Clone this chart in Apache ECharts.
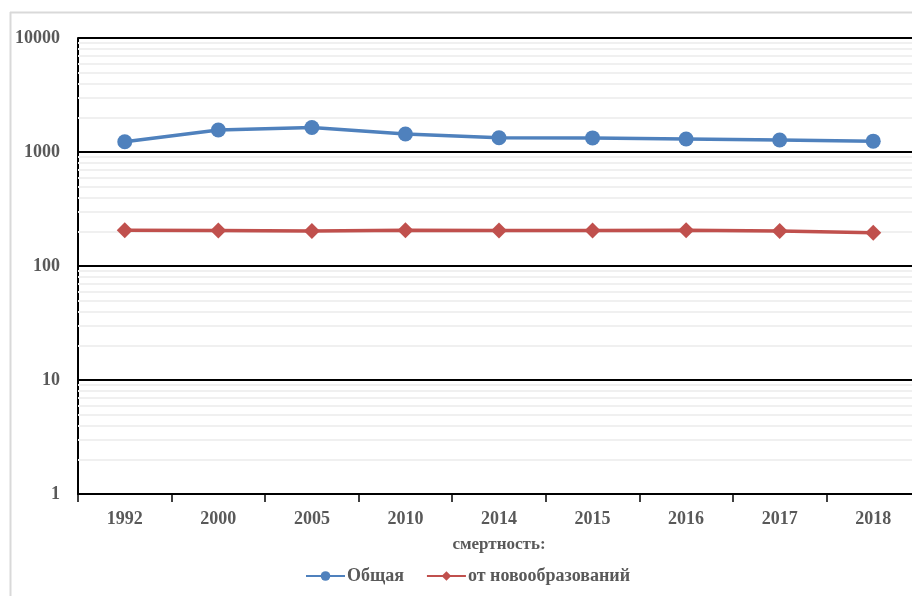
<!DOCTYPE html>
<html>
<head>
<meta charset="utf-8">
<script src="https://cdn.jsdelivr.net/npm/echarts@6/dist/echarts.min.js"></script>
<style>
  html, body { margin: 0; padding: 0; background: #fff; overflow: hidden; }
  #chart { width: 920px; height: 596px; }
</style>
</head>
<body>
<div id="chart"></div>
<script>
// Years on the category axis
const years = ['1992', '2000', '2005', '2010', '2014', '2015', '2016', '2017', '2018'];
// Overall mortality
const totalMortality = [1230, 1560, 1640, 1440, 1335, 1330, 1300, 1275, 1245];
// Mortality from neoplasms
const cancerMortality = [206, 205, 203, 206, 205, 205, 206, 203, 196];
// Legend names
const seriesNames = ['Общая', 'от новообразований'];
const axisTitle = 'смертность:';

// Minor log grid lines (2..9 within each decade)
const minorLines = [];
for (let d = 1; d <= 1000; d *= 10) {
  for (let k = 2; k <= 9; k++) minorLines.push({ yAxis: k * d });
}

const font = '"Liberation Serif", "Times New Roman", serif';
const labelColor = '#595959';
const chart = echarts.init(document.getElementById('chart'));
chart.setOption({
  animation: false,
  backgroundColor: '#fff',
  graphic: [
    { type: 'line', shape: { x1: 10.5, y1: 12, x2: 10.5, y2: 596 }, style: { stroke: '#d9d9d9', lineWidth: 2 } },
    { type: 'line', shape: { x1: 10, y1: 12.5, x2: 920, y2: 12.5 }, style: { stroke: '#d9d9d9', lineWidth: 2 } }
  ],
  grid: { left: 78, right: 0, top: 38, bottom: 102, containLabel: false },
  legend: {
    top: 562,
    left: 300,
    itemWidth: 39,
    itemHeight: 12,
    itemGap: 22,
    textStyle: { fontFamily: font, fontWeight: 'bold', fontSize: 18, color: labelColor, padding: [0, 0, 0, -3] },
    data: seriesNames
  },
  xAxis: {
    type: 'category',
    data: years,
    name: axisTitle,
    nameLocation: 'middle',
    nameGap: 42,
    nameTextStyle: { fontFamily: font, fontWeight: 'bold', fontSize: 17, color: labelColor },
    axisLine: { lineStyle: { color: '#000', width: 2 } },
    axisTick: { show: true, length: 8, lineStyle: { color: '#000', width: 1.5 } },
    axisLabel: { fontFamily: font, fontWeight: 'bold', fontSize: 18, color: labelColor, margin: 16 }
  },
  yAxis: {
    type: 'log',
    logBase: 10,
    min: 1,
    max: 10000,
    axisLine: { show: true, lineStyle: { color: '#000', width: 2 } },
    axisTick: { show: false },
    axisLabel: {
      fontFamily: font, fontWeight: 'bold', fontSize: 18, color: labelColor, margin: 18,
      formatter: v => String(Math.round(v))
    },
    splitLine: { show: true, lineStyle: { color: '#000', width: 2 } }
  },
  series: [
    {
      name: seriesNames[0],
      type: 'line',
      data: totalMortality,
      symbol: 'circle',
      symbolSize: 15,
      itemStyle: { color: '#4F81BD' },
      lineStyle: { color: '#4F81BD', width: 3.5 },
      z: 5,
      markLine: {
        silent: true,
        symbol: 'none',
        label: { show: false },
        lineStyle: { color: '#f0f0f0', width: 2, type: 'solid' },
        data: minorLines,
        z: 1
      }
    },
    {
      name: seriesNames[1],
      type: 'line',
      data: cancerMortality,
      symbol: 'diamond',
      symbolSize: 16,
      itemStyle: { color: '#C0504D' },
      lineStyle: { color: '#C0504D', width: 3.5 },
      z: 5
    }
  ]
});
</script>
</body>
</html>
